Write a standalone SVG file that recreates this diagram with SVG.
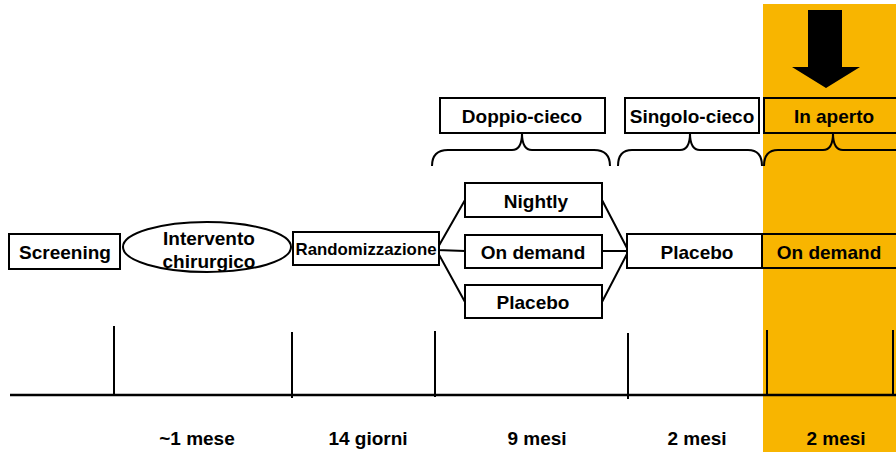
<svg xmlns="http://www.w3.org/2000/svg" width="896" height="452" viewBox="0 0 896 452">
<style>
.box{fill:#fff;stroke:#000;stroke-width:2}
.obox{fill:#F8B500;stroke:#000;stroke-width:2}
.t{font-family:"Liberation Sans",Arial,sans-serif;font-weight:bold;font-size:19px;fill:#000;text-anchor:middle}
.ln{stroke:#000;stroke-width:2;fill:none}
.br{stroke:#000;stroke-width:2;fill:none}
</style>
<rect x="763" y="4" width="133" height="448" fill="#F8B500"/>
<g id="arrow"><polygon points="808,10 842,10 842,67 860,67 826,88 792,67 808,67" fill="#000"/></g>
<g id="connectors">
<path class="ln" d="M437,249 L465,200 M437,250 L465,251 M437,251 L465,302"/>
<path class="ln" d="M602,200 L628,250 M602,251 L628,251 M602,302 L628,252"/>
<path class="br" d="M432,166 Q432,150 448,150 L512,150 Q522,150 522,133 Q522,150 532,150 L594,150 Q610,150 610,166"/>
<path class="br" d="M618,166 Q618,150 632,150 L680,150 Q690,150 690,133 Q690,150 700,150 L748,150 Q762,150 762,166"/>
<path class="br" d="M764,166 Q764,150 778,150 L823,150 Q833,150 833,133 Q833,150 843,150 L896,150"/>
<path stroke="#000" stroke-width="2.5" d="M10,395 L896,395"/>
<path class="ln" d="M114,326 L114,395 M292,332 L292,398 M435,331 L435,397 M628,333 L628,399 M767,330 L767,395 M893,330 L893,395"/>
</g>
<g id="screening"><rect class="box" x="9" y="234" width="111" height="35"/><text class="t" x="65" y="259">Screening</text></g>
<g id="intervento"><ellipse cx="207" cy="247" rx="84" ry="25" fill="#fff" stroke="#000" stroke-width="2"/><text class="t" x="209" y="245">Intervento</text><text class="t" x="209" y="268">chirurgico</text></g>
<g id="randomizzazione"><rect class="box" x="293" y="232" width="146" height="33"/><text class="t" x="366" y="255" style="font-size:17px" textLength="141" lengthAdjust="spacingAndGlyphs">Randomizzazione</text></g>
<g id="nightly"><rect class="box" x="465" y="183" width="137" height="34"/><text class="t" x="536" y="208">Nightly</text></g>
<g id="ondemand1"><rect class="box" x="465" y="235" width="137" height="33"/><text class="t" x="533" y="259">On demand</text></g>
<g id="placebo1"><rect class="box" x="465" y="285" width="137" height="33"/><text class="t" x="533" y="309">Placebo</text></g>
<g id="placebo2"><rect class="box" x="627" y="234" width="135" height="34"/><text class="t" x="697" y="259">Placebo</text></g>
<g id="ondemand2"><rect class="obox" x="762" y="234" width="140" height="34"/><text class="t" x="829" y="259">On demand</text></g>
<g id="doppio"><rect class="box" x="440" y="98" width="165" height="35"/><text class="t" x="522" y="123">Doppio-cieco</text></g>
<g id="singolo"><rect class="box" x="625" y="98" width="134" height="35"/><text class="t" x="692" y="123">Singolo-cieco</text></g>
<g id="aperto"><rect class="obox" x="764" y="98" width="140" height="35"/><text class="t" x="834" y="123">In aperto</text></g>
<g id="labels">
<text class="t" x="197" y="445">~1 mese</text>
<text class="t" x="368" y="445">14 giorni</text>
<text class="t" x="537" y="445">9 mesi</text>
<text class="t" x="697" y="445">2 mesi</text>
<text class="t" x="836" y="445">2 mesi</text>
</g>
</svg>
